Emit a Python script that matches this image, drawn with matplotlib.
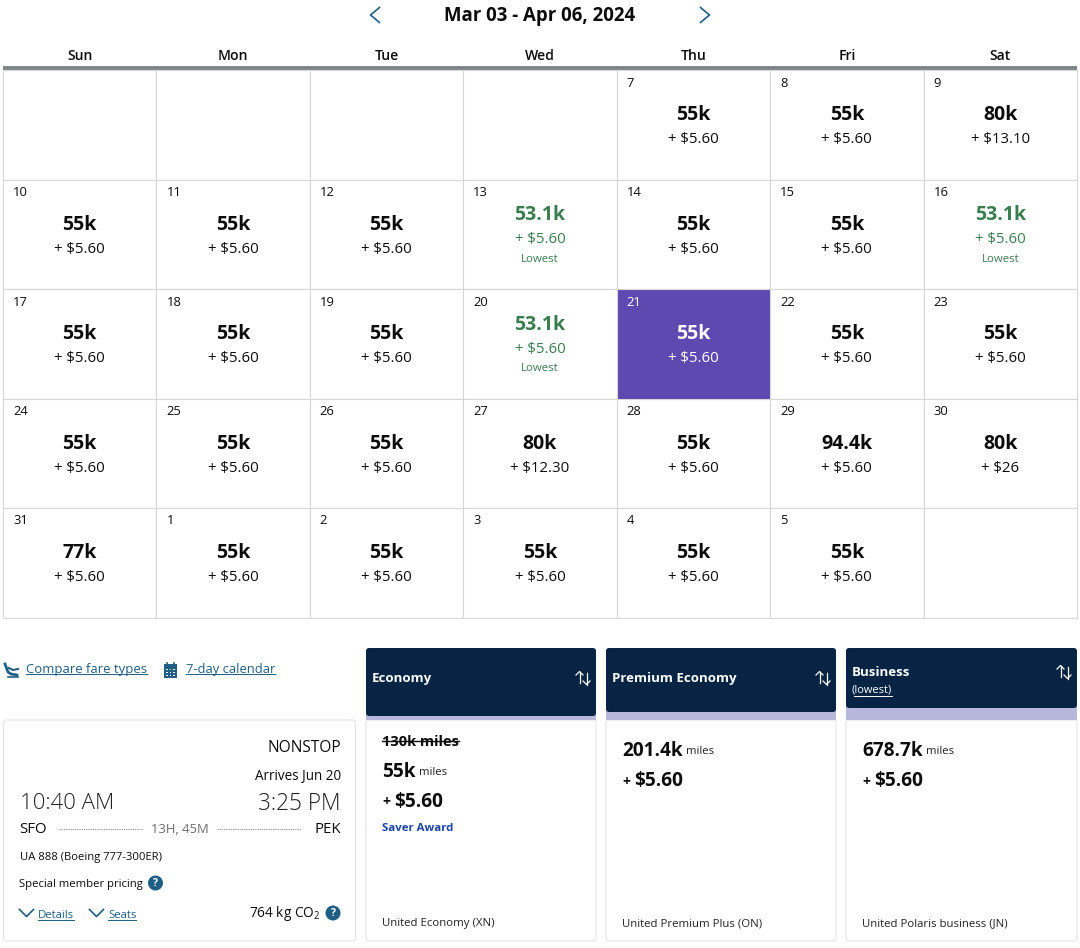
import matplotlib as mpl
mpl.use('Agg')
import matplotlib.pyplot as plt
from matplotlib.patches import Rectangle, FancyBboxPatch, Circle

plt.rcParams['font.family'] = ['Open Sans', 'DejaVu Sans']
plt.rcParams['mathtext.default'] = 'regular'

# calendar data, one list per week
title = 'Mar 03 - Apr 06, 2024'
weekdays = ['Sun', 'Mon', 'Tue', 'Wed', 'Thu', 'Fri', 'Sat']
days = [
    ['', '', '', '', '7', '8', '9'],
    ['10', '11', '12', '13', '14', '15', '16'],
    ['17', '18', '19', '20', '21', '22', '23'],
    ['24', '25', '26', '27', '28', '29', '30'],
    ['31', '1', '2', '3', '4', '5', ''],
]
miles = [
    ['', '', '', '', '55k', '55k', '80k'],
    ['55k', '55k', '55k', '53.1k', '55k', '55k', '53.1k'],
    ['55k', '55k', '55k', '53.1k', '55k', '55k', '55k'],
    ['55k', '55k', '55k', '80k', '55k', '94.4k', '80k'],
    ['77k', '55k', '55k', '55k', '55k', '55k', ''],
]
fees = [
    ['', '', '', '', '+ $5.60', '+ $5.60', '+ $13.10'],
    ['+ $5.60'] * 7,
    ['+ $5.60'] * 7,
    ['+ $5.60', '+ $5.60', '+ $5.60', '+ $12.30', '+ $5.60', '+ $5.60', '+ $26'],
    ['+ $5.60'] * 6 + [''],
]
selected_day = '21'

# fare cards
fare_names = ['Economy', 'Premium Economy', 'Business']
fare_miles = ['55k', '201.4k', '678.7k']
fare_fees = ['$5.60', '$5.60', '$5.60']
fare_products = ['United Economy (XN)', 'United Premium Plus (ON)', 'United Polaris business (JN)']

INK = '#0c0c0c'
GREEN = '#3a7d4f'
PURPLE = '#5c4ab1'
NAVY = '#072444'
STRIPE = '#b5b8da'
LINK = '#1f5f85'
GRID = '#d6d6d6'

def px(size):
    return size * 0.72

fig = plt.figure(figsize=(10.8, 9.48), dpi=100)
ax = fig.add_axes([0, 0, 1, 1])
ax.set_xlim(0, 1080)
ax.set_ylim(948, 0)
ax.axis('off')

def label(x, y, s, size, color=INK, weight='normal', ha='left', va='center', **kw):
    # open sans sits a bit high when centred, hence the 1.5
    return ax.text(x, y + 1.5, s, fontsize=px(size), color=color, fontweight=weight,
                   ha=ha, va=va, **kw)

def link(x, y, s, size, color=LINK):
    # text with an underline as wide as the text
    t = label(x, y, s, size, color=color)
    bb = t.get_window_extent(fig.canvas.get_renderer())
    ax.plot([x, x + bb.width], [y + size * 0.45] * 2, color=color, lw=0.7)
    return t

def chevron(x, y, w, h, direction, color=LINK, lw=1.2):
    if direction == 'down':
        ax.plot([x - w, x, x + w], [y - h, y + h, y - h], color=color, lw=lw)
    elif direction == 'left':
        ax.plot([x + w, x - w, x + w], [y - h, y, y + h], color=color, lw=lw)
    else:
        ax.plot([x - w, x + w, x - w], [y - h, y, y + h], color=color, lw=lw)

def help_dot(x, y, r=7.5):
    ax.add_patch(Circle((x, y), r, fc=LINK, ec='none'))
    label(x, y - 1, '?', 10.5, color='white', weight='bold', ha='center')

def sort_icon(x, y):
    white = dict(color='white', lw=0.9)
    ax.plot([x - 3.5, x - 3.5], [y - 6.5, y + 5], **white)
    ax.plot([x - 7, x - 3.5, x], [y - 3, y - 6.5, y - 3], **white)
    ax.plot([x + 3.5, x + 3.5], [y - 5, y + 6.5], **white)
    ax.plot([x, x + 3.5, x + 7], [y + 3, y + 6.5, y + 3], **white)

def card(x0, y0, x1, y1, fc='white', ec='#e4e4e4', z=1):
    ax.add_patch(FancyBboxPatch((x0 + 3, y0 + 3), x1 - x0 - 6, y1 - y0 - 6,
                                boxstyle='round,pad=3,rounding_size=3',
                                fc=fc, ec=ec, lw=0.8, zorder=z))

# header
label(540, 14, title, 18.7, weight='bold', ha='center')
chevron(375, 15, 4.5, 7.5, 'left')
chevron(705, 15, 4.5, 7.5, 'right')

# calendar grid
x_left, cell_w = 3, 153.43
y_top, cell_h = 70, 109.5
for i, name in enumerate(weekdays):
    label(x_left + (i + 0.5) * cell_w, 54.5, name, 14, ha='center', weight='semibold')

for r, week in enumerate(days):
    for c, day in enumerate(week):
        x0 = x_left + c * cell_w
        y0 = y_top + r * cell_h
        cx = x0 + cell_w / 2
        is_sel = day == selected_day
        ax.add_patch(Rectangle((x0, y0), cell_w, cell_h, fc=PURPLE if is_sel else 'white',
                               ec=GRID, lw=0.8, zorder=2 if is_sel else 1))
        if not day:
            continue
        low = miles[r][c] == '53.1k'
        main = 'white' if is_sel else (GREEN if low else INK)
        label(x0 + 10, y0 + 11.5, day, 13, color='white' if is_sel else INK, zorder=3)
        shift = -9.5 if low else 0
        label(cx, y0 + 43.5 + shift, miles[r][c], 19.5, color=main, weight='bold', ha='center', zorder=3)
        label(cx, y0 + 68 + shift, fees[r][c], 15, color=main, ha='center', zorder=3)
        if low:
            label(cx, y0 + 78, 'Lowest', 11.5, color=GREEN, ha='center', zorder=3)

ax.plot([3, 1077], [67.5, 67.5], color='#7d8589', lw=2.8, zorder=4, solid_capstyle='butt')

# links above the flight card
link(26, 668, 'Compare fare types', 13.1)
link(186, 668, '7-day calendar', 13)

# seat icon
ax.plot([5, 8, 11, 17], [664, 672, 674, 675], color=LINK, lw=2)
ax.plot([9, 13, 18], [668, 670, 669], color=LINK, lw=1.5)
ax.plot([8, 18], [677, 677], color=LINK, lw=1.2)

# calendar icon
ax.add_patch(Rectangle((164, 664), 13, 14, fc=LINK, ec='none'))
ax.plot([167, 167], [662.5, 665], color=LINK, lw=1.2)
ax.plot([174, 174], [662.5, 665], color=LINK, lw=1.2)
for gx in (167, 170.5, 174):
    for gy in (669.5, 672.5, 675.5):
        ax.add_patch(Rectangle((gx - 0.8, gy - 0.8), 1.6, 1.6, fc='white', ec='none'))

# flight card
card(3.5, 720, 355.5, 941)
label(341, 746, 'NONSTOP', 15.5, ha='right')
label(341, 775, 'Arrives Jun 20', 13.5, ha='right')
label(20, 802, '10:40 AM', 22.3, color='#222222', weight='light')
label(341, 802, '3:25 PM', 22.6, color='#222222', ha='right', weight='light')
label(19.5, 828, 'SFO', 15)
label(341, 828, 'PEK', 15, ha='right')
label(180, 828, '13H, 45M', 13, color='#6e6e6e', ha='center')
ax.plot([59, 143], [829, 829], color='#888888', lw=0.8, ls=(0, (1, 1)))
ax.plot([217, 301], [829, 829], color='#888888', lw=0.8, ls=(0, (1, 1)))
label(19.5, 856, 'UA 888 (Boeing 777-300ER)', 11.3)
label(19, 882.5, 'Special member pricing', 11.3)
help_dot(155.5, 883)
chevron(26.5, 913, 7, 3.5, 'down')
link(38, 914.5, 'Details', 11.4)
chevron(96.5, 913, 7, 3.5, 'down')
link(108, 914.5, 'Seats', 11.4)
label(249, 912, '764 kg CO$_2$', 13.6)
help_dot(333, 913)

# fare cards
card_x = [366, 606, 846]
card_w = [230, 230, 231]
head_bottom = [716, 712, 708]
text_x = [382, 622, 862]
miles_y = [771, 750, 750]
miles_x = [419, 686, 926]
for i, name in enumerate(fare_names):
    x0, x1 = card_x[i], card_x[i] + card_w[i]
    card(x0, 720, x1, 941)
    # stripe sits under the navy header
    ax.add_patch(Rectangle((x0, head_bottom[i] - 6), x1 - x0, 720 - head_bottom[i] + 6, fc=STRIPE, ec='none', zorder=2))
    ax.add_patch(FancyBboxPatch((x0 + 3, 651), x1 - x0 - 6, head_bottom[i] - 654,
                                boxstyle='round,pad=3,rounding_size=3', fc=NAVY, ec='none', zorder=3))
    header_y = 671 if name == 'Business' else 677
    label(x0 + 6, header_y, name, 13.2, color='white', weight='bold', zorder=4)
    sort_icon(x1 - 13, 678 if name != 'Business' else 672)
    y = miles_y[i]
    label(text_x[i], y - 0.5, fare_miles[i], 19, weight='bold')
    label(miles_x[i], y, 'miles', 11.2, color='#222222')
    label(text_x[i], y + 30, '+', 14, weight='bold')
    label(text_x[i] + 12, y + 29.5, fare_fees[i], 19, weight='bold')
    label(text_x[i], 922, fare_products[i], 11.4, color='#222222')
for art in ax.lines:
    art.set_zorder(max(art.get_zorder(), 4))
for art in ax.texts:
    art.set_zorder(max(art.get_zorder(), 5))

label(852, 689, '(lowest)', 11, color='white', zorder=5)
ax.plot([854, 892], [695.5, 695.5], color='white', lw=0.7, zorder=5)

label(382, 740, '130k miles', 14.6, weight='bold', zorder=5)
ax.plot([382, 459], [741, 741], color=INK, lw=1, zorder=6)
label(382, 827, 'Saver Award', 11.4, color='#1c43a5', weight='bold', zorder=5)

fig.savefig('out.png', dpi=100)
